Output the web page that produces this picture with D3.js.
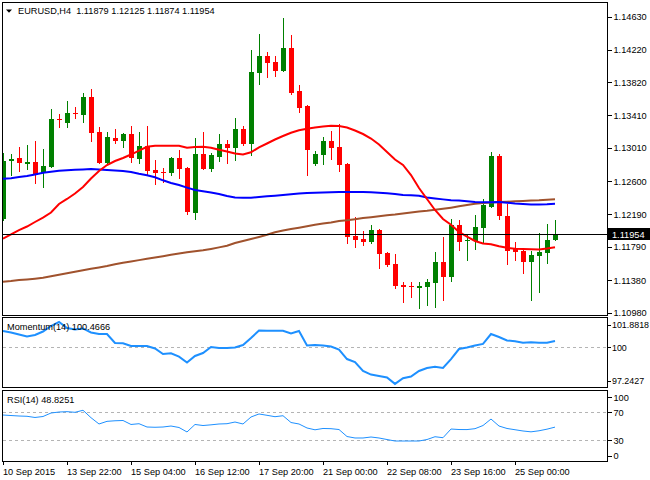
<!DOCTYPE html>
<html><head><meta charset="utf-8">
<script src="https://cdn.jsdelivr.net/npm/d3@7"></script>
<style>
html,body{margin:0;padding:0;background:#fff;}
svg{display:block;font-family:"Liberation Sans",Arial,sans-serif;}
</style></head><body>
<svg id="c" width="650" height="480"></svg>
<script>
const symbolTitle = "EURUSD,H4";
const lastOHLC = ["1.11879","1.12125","1.11874","1.11954"];
const lastPrice = 1.11954;

const open = [1.12133,1.12844,1.12885,1.12807,1.12836,1.12696,1.12778,1.13366,1.13320,1.13444,
1.13419,1.13637,1.13206,1.12827,1.13132,1.13098,1.13181,1.12876,1.13033,1.12737,
1.12712,1.12704,1.12885,1.12762,1.12211,1.12934,1.12749,1.12901,1.13058,1.13012,
1.13243,1.13058,1.13937,1.14143,1.14069,1.13961,1.14241,1.13711,1.13526,1.12811,
1.12922,1.13095,1.13021,1.12811,1.11923,1.11890,1.11853,1.11997,1.11714,1.11578,
1.11319,1.11307,1.11286,1.11298,1.11347,1.11599,1.11421,1.12053,1.11858,1.11865,
1.12026,1.12285,1.12910,1.12170,1.11772,1.11742,1.11606,1.11680,1.11717,1.11879];
const high = [1.12950,1.12934,1.13021,1.13045,1.13095,1.12996,1.13489,1.13428,1.13588,1.13510,
1.13683,1.13736,1.13264,1.13206,1.13243,1.13197,1.13280,1.13206,1.13280,1.12860,
1.12762,1.12901,1.12984,1.12778,1.13132,1.13206,1.12947,1.13181,1.13107,1.13378,
1.13280,1.14217,1.14414,1.14192,1.14143,1.14611,1.14402,1.13785,1.13539,1.12971,
1.13148,1.13218,1.13304,1.12823,1.12154,1.11989,1.12059,1.12013,1.11726,1.11701,
1.11360,1.11360,1.11360,1.11393,1.11726,1.11907,1.12133,1.12121,1.11948,1.12179,
1.12376,1.12955,1.12934,1.12318,1.11853,1.11751,1.11742,1.11964,1.12071,1.12125];
const low = [1.12121,1.12675,1.12728,1.12746,1.12580,1.12531,1.12770,1.13271,1.13271,1.13382,
1.13333,1.13098,1.12823,1.12823,1.13066,1.13021,1.12839,1.12827,1.12675,1.12564,
1.12589,1.12679,1.12638,1.12195,1.12129,1.12746,1.12728,1.12852,1.12827,1.12860,
1.13049,1.12922,1.13797,1.13887,1.13896,1.13958,1.13674,1.13452,1.12675,1.12799,
1.12811,1.12873,1.12725,1.11841,1.11791,1.11816,1.11841,1.11532,1.11553,1.11286,
1.11113,1.11175,1.11032,1.11072,1.11052,1.11128,1.11372,1.11751,1.11627,1.11767,
1.11833,1.12285,1.12133,1.11578,1.11627,1.11471,1.11134,1.11233,1.11594,1.11874];
const close = [1.12848,1.12873,1.12820,1.12839,1.12684,1.12786,1.13366,1.13350,1.13440,1.13428,
1.13637,1.13197,1.12827,1.13144,1.13095,1.13181,1.12881,1.13033,1.12725,1.12704,
1.12704,1.12885,1.12753,1.12223,1.12934,1.12753,1.12922,1.13058,1.13012,1.13243,
1.13058,1.13945,1.14143,1.14060,1.13961,1.14241,1.13690,1.13502,1.12984,1.12934,
1.13095,1.13008,1.12799,1.11911,1.11874,1.11853,1.11997,1.11705,1.11566,1.11310,
1.11298,1.11298,1.11310,1.11356,1.11599,1.11421,1.12053,1.11855,1.11868,1.12031,
1.12306,1.12910,1.12170,1.11742,1.11730,1.11606,1.11689,1.11726,1.11874,1.11954];

const maRed = [1.11892,1.11942,1.11997,1.12040,1.12096,1.12151,1.12213,1.12318,1.12380,1.12447,
1.12527,1.12632,1.12725,1.12799,1.12848,1.12885,1.12928,1.12977,1.13023,1.13037,
1.13037,1.13037,1.13037,1.13012,1.13021,1.13024,1.13011,1.12986,1.12965,1.12940,
1.12928,1.12955,1.13017,1.13064,1.13113,1.13156,1.13197,1.13227,1.13245,1.13261,
1.13273,1.13282,1.13280,1.13261,1.13224,1.13181,1.13125,1.13051,1.12959,1.12867,
1.12799,1.12675,1.12515,1.12380,1.12244,1.12133,1.12063,1.11973,1.11917,1.11862,
1.11831,1.11822,1.11796,1.11778,1.11767,1.11762,1.11759,1.11758,1.11769,1.11784];
const maBlue = [1.12629,1.12636,1.12650,1.12663,1.12682,1.12703,1.12717,1.12727,1.12735,1.12740,
1.12743,1.12748,1.12742,1.12737,1.12732,1.12725,1.12712,1.12690,1.12673,1.12648,
1.12610,1.12577,1.12552,1.12520,1.12490,1.12476,1.12460,1.12441,1.12416,1.12398,
1.12395,1.12396,1.12404,1.12413,1.12421,1.12429,1.12439,1.12446,1.12453,1.12458,
1.12461,1.12463,1.12466,1.12466,1.12466,1.12466,1.12462,1.12456,1.12449,1.12441,
1.12429,1.12425,1.12419,1.12398,1.12386,1.12375,1.12365,1.12360,1.12351,1.12342,
1.12339,1.12341,1.12342,1.12333,1.12324,1.12318,1.12312,1.12312,1.12315,1.12322];
const maBrown = [1.11360,1.11368,1.11381,1.11388,1.11397,1.11408,1.11426,1.11445,1.11463,1.11483,
1.11502,1.11520,1.11536,1.11553,1.11574,1.11593,1.11609,1.11626,1.11642,1.11658,
1.11674,1.11691,1.11707,1.11722,1.11735,1.11747,1.11764,1.11783,1.11804,1.11837,
1.11862,1.11886,1.11911,1.11938,1.11969,1.11991,1.12010,1.12026,1.12044,1.12063,
1.12077,1.12091,1.12108,1.12117,1.12130,1.12145,1.12155,1.12166,1.12179,1.12188,
1.12201,1.12213,1.12225,1.12234,1.12246,1.12259,1.12273,1.12289,1.12306,1.12320,
1.12330,1.12336,1.12342,1.12346,1.12351,1.12355,1.12360,1.12363,1.12370,1.12376];

const momentum = [101.21,101.10,100.95,100.80,100.91,101.17,101.58,101.88,101.43,101.32,
101.40,101.10,100.98,100.98,100.31,100.29,100.09,100.09,100.09,99.90,
99.49,99.54,99.29,98.85,99.34,99.56,100.01,99.94,99.94,99.97,
100.16,100.68,101.25,101.23,101.23,101.23,101.02,101.21,100.12,100.16,
100.12,100.05,99.82,99.11,98.89,98.22,97.95,97.84,97.73,97.25,
97.67,97.80,98.22,98.44,98.54,98.44,99.11,99.86,99.97,100.12,
100.24,100.98,100.76,100.50,100.44,100.33,100.36,100.33,100.33,100.4666];
const rsi = [66.1,65.4,64.7,64.3,62.6,64.0,69.0,70.4,70.9,70.0,
72.9,62.3,53.3,57.1,57.9,58.3,52.6,53.7,49.0,48.6,
49.0,50.4,48.3,41.9,52.6,51.1,52.1,53.3,53.7,56.1,
53.3,63.3,67.6,65.7,63.7,65.1,55.4,53.3,47.6,45.0,
46.9,46.6,45.4,35.4,33.3,33.3,34.7,33.3,31.1,29.0,
29.0,29.0,29.0,31.1,35.1,33.7,46.1,45.4,45.3,46.6,
51.1,60.4,50.4,46.9,45.1,43.3,42.1,43.6,45.9,48.8251];

const priceTicks = ["1.14630","1.14220","1.13820","1.13410","1.13010","1.12600","1.12190","1.11790","1.11380","1.10980"];
const timeLabels = ["10 Sep 2015","13 Sep 22:00","15 Sep 04:00","16 Sep 12:00","17 Sep 20:00","21 Sep 00:00","22 Sep 08:00","23 Sep 16:00","25 Sep 00:00"];
const timeLabelIdx = [0,8,16,24,32,40,48,56,64];
const momTicks = ["101.8818","100","97.2427"];
const momMin = 97.2427, momMax = 101.8818, momLevel = 100;
const rsiTicks = ["100","70","30","0"];
const rsiLevels = [70,30];
const momLabel = "Momentum(14) 100.4666";
const rsiLabel = "RSI(14) 48.8251";

const FS = 9.2;
const svg = d3.select("#c");
svg.append("rect").attr("width",650).attr("height",480).attr("fill","#fff");

const L = 2.5, R = 607.5;
const panels = {
  main: {top: 2.5, bottom: 315},
  mom:  {top: 317.5, bottom: 387.5},
  rsi:  {top: 390.5, bottom: 461.5}
};
const n = open.length;
const x = d3.scaleLinear().domain([0, n-1]).range([3, 555]);
const y = d3.scaleLinear().domain([1.1098, 1.1463]).range([312.5, 16.5]);
const yM = d3.scaleLinear().domain([momMin, momMax]).range([384, 322]);
const yR = d3.scaleLinear().domain([0, 100]).range([461.3, 391.3]);

const defs = svg.append("defs");
Object.entries(panels).forEach(([k,p])=>{
  defs.append("clipPath").attr("id","clip-"+k).append("rect")
    .attr("x",L).attr("y",p.top).attr("width",R-L).attr("height",p.bottom-p.top);
});

// main panel candles
const gMain = svg.append("g").attr("clip-path","url(#clip-main)");
const idx = d3.range(n);
const cx = i => Math.round(x(i));
const gC = gMain.append("g").attr("shape-rendering","crispEdges");
idx.forEach(i=>{
  const up = close[i] >= open[i];
  const col = up ? "#008000" : "#ff0000";
  const xi = cx(i);
  gC.append("line").attr("x1",xi+0.5).attr("x2",xi+0.5)
    .attr("y1",Math.round(y(high[i]))).attr("y2",Math.round(y(low[i]))+1)
    .attr("stroke",col).attr("stroke-width",1);
  const yt = Math.round(y(Math.max(open[i],close[i])));
  const yb = Math.round(y(Math.min(open[i],close[i])));
  gC.append("rect").attr("x",xi-2).attr("y",yt).attr("width",5).attr("height",Math.max(1,yb-yt))
    .attr("fill",col);
});

const lineOf = (arr, sc) => d3.line().x((d,i)=>x(i)).y(d=>sc(d))(arr);
gMain.append("path").attr("d",lineOf(maBrown,y)).attr("fill","none").attr("stroke","#a0522d").attr("stroke-width",2);
gMain.append("path").attr("d",lineOf(maBlue,y)).attr("fill","none").attr("stroke","#0000ff").attr("stroke-width",2);
gMain.append("path").attr("d",lineOf(maRed,y)).attr("fill","none").attr("stroke","#ff0000").attr("stroke-width",2);

// current price line
const yp = Math.round(y(lastPrice))+0.5;
svg.append("line").attr("x1",L).attr("x2",R).attr("y1",yp).attr("y2",yp)
  .attr("stroke","#000").attr("stroke-width",1).attr("shape-rendering","crispEdges");

// momentum panel
const gMom = svg.append("g").attr("clip-path","url(#clip-mom)");
gMom.append("line").attr("x1",L).attr("x2",R).attr("y1",Math.round(yM(momLevel))+0.5).attr("y2",Math.round(yM(momLevel))+0.5)
  .attr("stroke","#b4b4b4").attr("stroke-dasharray","3,3").attr("shape-rendering","crispEdges");
gMom.append("path").attr("d",lineOf(momentum,yM)).attr("fill","none").attr("stroke","#1e90ff").attr("stroke-width",2);

// rsi panel
const gRsi = svg.append("g").attr("clip-path","url(#clip-rsi)");
rsiLevels.forEach(v=>{
  const yy = Math.round(yR(v))+0.5;
  gRsi.append("line").attr("x1",L).attr("x2",R).attr("y1",yy).attr("y2",yy)
    .attr("stroke","#b4b4b4").attr("stroke-dasharray","3,3").attr("shape-rendering","crispEdges");
});
gRsi.append("path").attr("d",lineOf(rsi,yR)).attr("fill","none").attr("stroke","#1e90ff").attr("stroke-width",1);

// frames
Object.values(panels).forEach(p=>{
  svg.append("rect").attr("x",L).attr("y",p.top).attr("width",R-L).attr("height",p.bottom-p.top)
    .attr("fill","none").attr("stroke","#000").attr("stroke-width",1).attr("shape-rendering","crispEdges");
});

// price axis
function styleAxis(g){
  g.select(".domain").remove();
  g.selectAll("text").attr("font-size",FS).attr("font-family","Liberation Sans, Arial, sans-serif").attr("fill","#000");
  g.selectAll("line").attr("stroke","#000").attr("shape-rendering","crispEdges");
}
const yAxis = d3.axisRight(y).tickValues(priceTicks.map(Number)).tickFormat((d,i)=>priceTicks[i]).tickSize(4).tickPadding(2);
svg.append("g").attr("transform",`translate(${R},0)`).call(yAxis).call(styleAxis);

const mAxis = d3.axisRight(yM).tickValues(momTicks.map(Number)).tickFormat((d,i)=>momTicks[i]).tickSize(3).tickPadding(1.5);
const gmA = svg.append("g").attr("transform",`translate(${R},0)`).call(mAxis).call(styleAxis);
gmA.selectAll("text").attr("font-size",8.9);
gmA.selectAll(".tick").each(function(d,i){
  const t = d3.select(this);
  if (i===0){ t.select("text").attr("y",3); t.select("line").attr("y1",3).attr("y2",3); }
  if (i===momTicks.length-1){ t.select("text").attr("y",-3); t.select("line").attr("y1",-3).attr("y2",-3); }
});

const rAxis = d3.axisRight(yR).tickValues(rsiTicks.map(Number)).tickFormat((d,i)=>rsiTicks[i]).tickSize(4).tickPadding(2);
const grA = svg.append("g").attr("transform",`translate(${R},0)`).call(rAxis).call(styleAxis);
grA.selectAll(".tick").each(function(d,i){
  const t = d3.select(this);
  if (d===100){ t.select("text").attr("y",6); t.select("line").attr("y1",6).attr("y2",6); }
  if (d===0){ t.select("text").attr("y",-5.5); t.select("line").attr("y1",-5.5).attr("y2",-5.5); }
});

// time axis
const xAxis = d3.axisBottom(x).tickValues(timeLabelIdx).tickFormat((d,i)=>timeLabels[i]).tickSize(3).tickPadding(2);
const gx = svg.append("g").attr("transform",`translate(0.5,${panels.rsi.bottom})`).call(xAxis).call(styleAxis);
gx.selectAll(".tick").attr("transform",d=>`translate(${cx(d)},0)`);
gx.selectAll("text").attr("text-anchor","start").attr("x",-0.5).attr("y",13).attr("dy",0);

// price box
svg.append("rect").attr("x",608).attr("y",yp-6.5).attr("width",42).attr("height",12).attr("fill","#000");
svg.append("text").attr("x",612).attr("y",yp+3.5).attr("font-size",FS).attr("fill","#fff").text(lastOHLC[3]);

// header
svg.append("path").attr("d","M6,9.5 L12,9.5 L9,12.8 Z").attr("fill","#000");
svg.append("text").attr("x",18).attr("y",14).attr("font-size",FS).attr("fill","#000")
  .attr("xml:space","preserve").style("white-space","pre")
  .text(symbolTitle + "  " + lastOHLC.join(" "));

svg.append("text").attr("x",7).attr("y",330).attr("font-size",FS).attr("fill","#000").text(momLabel);
svg.append("text").attr("x",7).attr("y",403).attr("font-size",FS).attr("fill","#000").text(rsiLabel);
</script>
</body></html>
